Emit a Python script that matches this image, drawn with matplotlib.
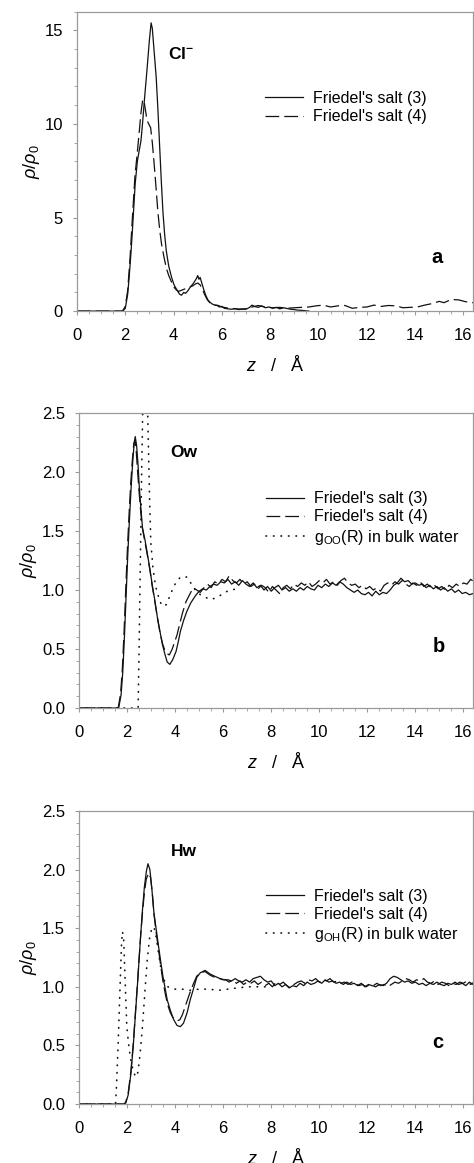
import numpy as np
import matplotlib
matplotlib.use("Agg")
import matplotlib.pyplot as plt
from matplotlib.ticker import MultipleLocator

# --- fonts ---
plt.rcParams['font.family'] = ['Liberation Sans', 'DejaVu Sans']
plt.rcParams['mathtext.fontset'] = 'custom'
plt.rcParams['mathtext.rm'] = 'Liberation Sans'
plt.rcParams['mathtext.it'] = 'Liberation Sans:italic'
plt.rcParams['mathtext.bf'] = 'Liberation Sans:bold'

# --- data: (z [A], rho/rho0) ---
# panel a, Cl-
cl_fs3 = [
    (0, 0), (1.9, 0), (2.0, 0.15), (2.1, 0.9), (2.16, 1.8), (2.23, 3.0), (2.3, 4.4),
    (2.36, 5.7), (2.41, 6.8), (2.5, 8.0), (2.58, 8.6), (2.65, 9.1), (2.72, 10.1),
    (2.8, 11.4), (2.9, 12.9), (3.0, 14.5), (3.07, 15.4), (3.12, 15.1), (3.2, 13.8),
    (3.28, 12.5), (3.35, 10.8), (3.42, 8.9), (3.49, 7.0), (3.56, 5.3), (3.63, 4.1),
    (3.7, 3.2), (3.8, 2.4), (3.92, 1.8), (4.02, 1.4), (4.13, 1.15), (4.25, 0.9),
    (4.33, 0.85), (4.42, 1.0), (4.5, 0.95), (4.6, 1.1), (4.7, 1.3), (4.8, 1.45),
    (4.88, 1.6), (4.95, 1.75), (5.0, 1.9), (5.05, 1.7), (5.1, 1.8), (5.18, 1.45),
    (5.25, 1.15), (5.33, 0.85), (5.42, 0.6), (5.5, 0.48), (5.6, 0.38), (5.7, 0.32),
    (5.8, 0.3), (5.9, 0.22), (6.0, 0.25), (6.1, 0.15), (6.25, 0.12), (6.4, 0.1),
    (6.55, 0.13), (6.7, 0.08), (6.85, 0.12), (7.0, 0.1), (7.15, 0.2), (7.25, 0.32),
    (7.35, 0.25), (7.5, 0.2), (7.65, 0.28), (7.8, 0.18), (7.95, 0.22), (8.1, 0.15),
    (8.25, 0.2), (8.4, 0.12), (8.55, 0.18), (8.7, 0.14), (8.85, 0.1), (9.0, 0.08),
    (9.15, 0.05), (9.3, 0.04), (9.45, 0.02), (9.6, 0.0),
]
cl_fs4 = [
    (0, 0), (1.88, 0), (2.0, 0.25), (2.1, 1.1), (2.2, 2.9), (2.3, 5.1), (2.4, 7.2),
    (2.5, 8.5), (2.58, 9.6), (2.65, 10.6), (2.72, 11.3), (2.78, 11.2), (2.84, 10.7),
    (2.9, 10.2), (2.97, 10.0), (3.05, 9.8), (3.12, 9.0), (3.2, 7.8), (3.28, 6.5),
    (3.35, 5.3), (3.43, 4.3), (3.5, 3.6), (3.6, 2.9), (3.7, 2.3), (3.8, 1.9),
    (3.9, 1.6), (4.0, 1.3), (4.1, 1.15), (4.2, 1.05), (4.3, 1.1), (4.4, 1.15),
    (4.5, 1.2), (4.6, 1.25), (4.7, 1.3), (4.8, 1.35), (4.9, 1.45), (5.0, 1.5),
    (5.1, 1.4), (5.2, 1.15), (5.3, 0.85), (5.4, 0.6), (5.5, 0.45), (5.6, 0.38),
    (5.7, 0.33), (5.85, 0.3), (6.0, 0.22), (6.3, 0.15), (6.6, 0.12), (6.9, 0.1),
    (7.2, 0.2), (7.5, 0.3), (7.8, 0.22), (8.1, 0.18), (8.4, 0.2), (8.7, 0.15),
    (9.0, 0.18), (9.3, 0.2), (9.6, 0.22), (9.9, 0.28), (10.2, 0.32), (10.5, 0.22),
    (10.8, 0.28), (11.1, 0.3), (11.4, 0.15), (11.7, 0.2), (12.0, 0.22), (12.3, 0.32),
    (12.6, 0.25), (12.9, 0.3), (13.2, 0.28), (13.5, 0.18), (13.8, 0.2), (14.1, 0.22),
    (14.4, 0.32), (14.7, 0.4), (15.0, 0.52), (15.2, 0.45), (15.5, 0.62), (15.8, 0.6),
    (16.1, 0.5), (16.4, 0.45),
]

# panel b, Ow
ow_fs3 = [
    (0, 0), (1.65, 0), (1.75, 0.11), (1.82, 0.3), (1.89, 0.6), (1.96, 0.95), (2.03, 1.3),
    (2.1, 1.6), (2.17, 1.87), (2.24, 2.1), (2.3, 2.25), (2.34, 2.3), (2.4, 2.22),
    (2.46, 2.05), (2.51, 1.87), (2.58, 1.68), (2.64, 1.53), (2.75, 1.42), (2.85, 1.3),
    (2.95, 1.18), (3.05, 1.04), (3.15, 0.92), (3.26, 0.77), (3.36, 0.66), (3.47, 0.54),
    (3.57, 0.46), (3.67, 0.39), (3.78, 0.37), (3.9, 0.41), (4.04, 0.48), (4.13, 0.56),
    (4.22, 0.65), (4.35, 0.74), (4.49, 0.82), (4.65, 0.89), (4.84, 0.95),
    (5.0, 0.99), (5.15, 1.01), (5.3, 1.0), (5.45, 1.03), (5.6, 1.05), (5.75, 1.04),
    (5.9, 1.07), (6.05, 1.06), (6.2, 1.09), (6.35, 1.05), (6.5, 1.07), (6.65, 1.04),
    (6.8, 1.08), (6.95, 1.05), (7.1, 1.03), (7.25, 1.06), (7.4, 1.02), (7.55, 1.04),
    (7.7, 1.0), (7.85, 1.03), (8.0, 0.99), (8.15, 1.02), (8.3, 1.04), (8.45, 1.0),
    (8.6, 1.02), (8.75, 0.99), (8.9, 1.01), (9.05, 0.99), (9.2, 1.02), (9.35, 1.0),
    (9.5, 1.03), (9.65, 1.01), (9.8, 1.0), (9.95, 1.04), (10.1, 1.02), (10.25, 1.05),
    (10.4, 1.03), (10.55, 1.06), (10.7, 1.04), (10.85, 1.07), (11.0, 1.05), (11.15, 1.02),
    (11.3, 1.0), (11.45, 0.98), (11.6, 1.0), (11.75, 0.97), (11.9, 0.96), (12.05, 0.98),
    (12.2, 0.95), (12.35, 0.99), (12.5, 0.96), (12.65, 0.98), (12.8, 0.97), (12.95, 1.0),
    (13.1, 1.04), (13.25, 1.06), (13.4, 1.1), (13.55, 1.07), (13.7, 1.08), (13.85, 1.05),
    (14.0, 1.06), (14.15, 1.04), (14.3, 1.05), (14.45, 1.02), (14.6, 1.04), (14.75, 1.01),
    (14.9, 1.03), (15.05, 1.0), (15.2, 1.02), (15.35, 0.99), (15.5, 1.01), (15.65, 0.98),
    (15.8, 1.0), (15.95, 0.97), (16.1, 0.98), (16.25, 0.96), (16.4, 0.97), (16.55, 0.96),
]
ow_fs4 = [
    (0, 0), (1.63, 0), (1.73, 0.12), (1.8, 0.32), (1.87, 0.62), (1.94, 0.98), (2.01, 1.33),
    (2.08, 1.63), (2.15, 1.9), (2.22, 2.1), (2.28, 2.24), (2.33, 2.27), (2.38, 2.18),
    (2.44, 2.0), (2.5, 1.83), (2.57, 1.66), (2.64, 1.52), (2.75, 1.4), (2.85, 1.29),
    (2.95, 1.17), (3.05, 1.03), (3.15, 0.91), (3.26, 0.77), (3.36, 0.65), (3.47, 0.55),
    (3.57, 0.49), (3.67, 0.46), (3.76, 0.45), (3.88, 0.5), (3.98, 0.56), (4.08, 0.62),
    (4.2, 0.72), (4.3, 0.8), (4.45, 0.9), (4.6, 0.96), (4.75, 1.02),
    (4.9, 1.0), (5.05, 0.98), (5.2, 1.02), (5.35, 1.05), (5.5, 1.02), (5.65, 1.07),
    (5.8, 1.05), (5.95, 1.09), (6.1, 1.07), (6.25, 1.12), (6.4, 1.08), (6.55, 1.06),
    (6.7, 1.09), (6.85, 1.05), (7.0, 1.07), (7.15, 1.03), (7.3, 1.05), (7.45, 1.01),
    (7.6, 1.04), (7.75, 1.02), (7.9, 0.98), (8.05, 1.03), (8.2, 1.0), (8.35, 0.97),
    (8.5, 1.02), (8.65, 1.04), (8.8, 1.01), (8.95, 1.05), (9.1, 1.03), (9.25, 1.06),
    (9.4, 1.04), (9.55, 1.07), (9.7, 1.03), (9.85, 1.05), (10.0, 1.08), (10.15, 1.06),
    (10.3, 1.09), (10.45, 1.05), (10.6, 1.07), (10.75, 1.04), (10.9, 1.08), (11.05, 1.1),
    (11.2, 1.06), (11.35, 1.04), (11.5, 1.05), (11.65, 1.02), (11.8, 1.04), (11.95, 1.01),
    (12.1, 1.03), (12.25, 1.0), (12.4, 1.02), (12.55, 0.99), (12.7, 1.04), (12.85, 1.06),
    (13.0, 1.04), (13.15, 1.07), (13.3, 1.05), (13.45, 1.08), (13.6, 1.05), (13.75, 1.03),
    (13.9, 1.06), (14.05, 1.04), (14.2, 1.07), (14.35, 1.03), (14.5, 1.05), (14.65, 1.02),
    (14.8, 1.04), (14.95, 1.01), (15.1, 1.03), (15.25, 1.0), (15.4, 1.04), (15.55, 1.02),
    (15.7, 1.05), (15.85, 1.03), (16.0, 1.06), (16.15, 1.05), (16.3, 1.09), (16.45, 1.07),
    (16.6, 1.09),
]
goo_bulk = [
    (0, 0), (2.46, 0), (2.5, 0.5), (2.55, 1.2), (2.6, 1.9), (2.65, 2.5), (2.7, 2.9),
    (2.76, 3.05), (2.82, 2.85), (2.88, 2.3), (2.94, 1.75), (2.99, 1.4), (3.08, 1.18),
    (3.19, 1.03), (3.3, 0.95), (3.4, 0.89), (3.53, 0.86), (3.65, 0.88), (3.76, 0.94),
    (3.88, 1.0), (4.0, 1.05), (4.22, 1.11), (4.49, 1.11), (4.65, 1.06), (4.84, 1.0),
    (5.05, 0.96), (5.25, 0.94), (5.45, 0.92), (5.66, 0.93), (5.85, 0.95), (6.07, 0.98),
    (6.3, 1.0), (6.6, 1.01),
]

# panel c, Hw
hw_fs3 = [
    (0, 0), (1.9, 0), (1.95, 0.01), (2.05, 0.08), (2.16, 0.26), (2.26, 0.5), (2.36, 0.8),
    (2.44, 1.04), (2.5, 1.23), (2.57, 1.45), (2.64, 1.65), (2.72, 1.85), (2.8, 1.98),
    (2.87, 2.05), (2.95, 2.0), (3.03, 1.84), (3.12, 1.63), (3.2, 1.51), (3.3, 1.36),
    (3.39, 1.23), (3.5, 1.08), (3.6, 0.97), (3.67, 0.89), (3.8, 0.8), (3.94, 0.72),
    (4.08, 0.67), (4.22, 0.66), (4.35, 0.69), (4.5, 0.78), (4.63, 0.89), (4.76, 0.98),
    (4.9, 1.08), (5.05, 1.12), (5.25, 1.14), (5.45, 1.11), (5.65, 1.09), (5.87, 1.07),
    (6.05, 1.06),
    (6.2, 1.06), (6.35, 1.05), (6.5, 1.07), (6.65, 1.05), (6.8, 1.04), (6.95, 1.06),
    (7.1, 1.04), (7.25, 1.07), (7.4, 1.08), (7.55, 1.09), (7.7, 1.06), (7.85, 1.04),
    (8.0, 1.05), (8.15, 1.01), (8.3, 1.03), (8.45, 1.0), (8.6, 1.02), (8.75, 0.99),
    (8.9, 1.01), (9.05, 1.0), (9.2, 1.03), (9.35, 1.01), (9.5, 1.04), (9.65, 1.02),
    (9.8, 1.03), (9.95, 1.05), (10.1, 1.03), (10.25, 1.06), (10.4, 1.04), (10.55, 1.05),
    (10.7, 1.03), (10.85, 1.04), (11.0, 1.02), (11.15, 1.04), (11.3, 1.02), (11.45, 1.03),
    (11.6, 1.01), (11.75, 1.03), (11.9, 1.0), (12.05, 1.02), (12.2, 1.01), (12.35, 1.0),
    (12.5, 1.02), (12.65, 1.01), (12.8, 1.03), (12.95, 1.07), (13.1, 1.09), (13.25, 1.08),
    (13.4, 1.06), (13.55, 1.04), (13.7, 1.05), (13.85, 1.03), (14.0, 1.04), (14.15, 1.02),
    (14.3, 1.03), (14.45, 1.01), (14.6, 1.03), (14.75, 1.02), (14.9, 1.04), (15.05, 1.02),
    (15.2, 1.01), (15.35, 1.03), (15.5, 1.02), (15.65, 1.04), (15.8, 1.02), (15.95, 1.03),
    (16.1, 1.01), (16.25, 1.04), (16.4, 1.02), (16.55, 1.05),
]
hw_fs4 = [
    (0, 0), (1.88, 0), (1.95, 0.02), (2.05, 0.1), (2.16, 0.28), (2.26, 0.52), (2.36, 0.82),
    (2.44, 1.05), (2.5, 1.24), (2.57, 1.45), (2.64, 1.63), (2.72, 1.8), (2.8, 1.92),
    (2.9, 1.97), (2.98, 1.93), (3.05, 1.8), (3.12, 1.62), (3.2, 1.48), (3.3, 1.33),
    (3.4, 1.18), (3.5, 1.04), (3.6, 0.93), (3.7, 0.84), (3.8, 0.78), (3.9, 0.74),
    (4.0, 0.72), (4.1, 0.71), (4.2, 0.72), (4.3, 0.76), (4.45, 0.85), (4.6, 0.94),
    (4.75, 1.02), (4.9, 1.09), (5.05, 1.12), (5.25, 1.13), (5.45, 1.1), (5.65, 1.08),
    (5.85, 1.07), (6.0, 1.06),
    (6.1, 1.06), (6.25, 1.04), (6.4, 1.06), (6.55, 1.03), (6.7, 1.05), (6.85, 1.02),
    (7.0, 1.04), (7.15, 1.03), (7.3, 1.05), (7.45, 1.02), (7.6, 1.04), (7.75, 1.01),
    (7.9, 1.03), (8.05, 1.0), (8.2, 1.04), (8.35, 1.02), (8.5, 1.04), (8.65, 1.01),
    (8.8, 0.99), (8.95, 1.02), (9.1, 1.04), (9.25, 1.05), (9.4, 1.03), (9.55, 1.06),
    (9.7, 1.05), (9.85, 1.07), (10.0, 1.04), (10.15, 1.06), (10.3, 1.05), (10.45, 1.07),
    (10.6, 1.04), (10.75, 1.05), (10.9, 1.03), (11.05, 1.04), (11.2, 1.02), (11.35, 1.04),
    (11.5, 1.03), (11.65, 1.01), (11.8, 1.02), (11.95, 1.0), (12.1, 1.02), (12.25, 1.01),
    (12.4, 1.03), (12.55, 1.01), (12.7, 1.02), (12.85, 1.0), (13.0, 1.02), (13.15, 1.04),
    (13.3, 1.03), (13.45, 1.05), (13.6, 1.07), (13.75, 1.06), (13.9, 1.04), (14.05, 1.06),
    (14.2, 1.05), (14.35, 1.07), (14.5, 1.04), (14.65, 1.03), (14.8, 1.05), (14.95, 1.02),
    (15.1, 1.04), (15.25, 1.03), (15.4, 1.01), (15.55, 1.03), (15.7, 1.02), (15.85, 1.04),
    (16.0, 1.03), (16.15, 1.05), (16.3, 1.02), (16.45, 1.04), (16.6, 1.05),
]
goh_bulk = [
    (0, 0), (1.52, 0), (1.56, 0.15), (1.63, 0.52), (1.7, 0.95), (1.77, 1.37), (1.81, 1.47),
    (1.86, 1.4), (1.92, 1.05), (1.99, 0.66), (2.08, 0.48), (2.16, 0.37), (2.26, 0.28),
    (2.36, 0.23), (2.45, 0.27), (2.54, 0.42), (2.64, 0.66), (2.74, 0.95), (2.84, 1.23),
    (2.94, 1.42), (3.03, 1.5), (3.12, 1.51), (3.2, 1.44), (3.3, 1.3), (3.39, 1.18),
    (3.5, 1.08), (3.6, 1.03), (3.7, 1.0), (3.8, 0.99), (4.0, 0.98), (4.3, 0.98),
    (4.6, 0.97), (5.0, 0.98), (5.4, 0.98), (5.8, 0.97), (6.2, 0.98), (6.6, 0.99),
    (7.0, 1.0), (7.5, 1.0), (8.0, 1.0),
]

LAB3 = "Friedel's salt (3)"
LAB4 = "Friedel's salt (4)"
LAB_OO = r"g$_{\mathrm{OO}}$(R) in bulk water"
LAB_OH = r"g$_{\mathrm{OH}}$(R) in bulk water"

SPINE = "#9a9a9a"
INK = "#111111"


def draw(ax, pts, style):
    z, v = np.array(pts).T
    if style == "solid":
        return ax.plot(z, v, color=INK, lw=0.9, ls="-")[0]
    if style == "dashed":
        return ax.plot(z, v, color=INK, lw=0.9, dashes=(11, 4))[0]
    # sparse round dots
    return ax.plot(z, v, color=INK, lw=1.2, ls=(0, (0.3, 4.2)),
                   dash_capstyle="round")[0]


def style_axes(ax, ymax, ymaj, ymin):
    ax.set_xlim(0, 16.4)
    ax.set_ylim(0, ymax)
    ax.xaxis.set_major_locator(MultipleLocator(2))
    ax.xaxis.set_minor_locator(MultipleLocator(0.5))
    ax.yaxis.set_major_locator(MultipleLocator(ymaj))
    ax.yaxis.set_minor_locator(MultipleLocator(ymin))
    for s in ax.spines.values():
        s.set_color(SPINE)
        s.set_linewidth(0.9)
    ax.tick_params(which="major", direction="out", length=3, color=SPINE,
                   labelsize=12, labelcolor="black")
    ax.tick_params(axis="x", which="major", pad=9)
    ax.tick_params(axis="y", which="major", pad=7)
    ax.tick_params(which="minor", direction="out", length=2, color=SPINE)
    ax.set_xlabel(r"$z$   /   Å", fontsize=13, labelpad=9)
    ax.set_ylabel(r"$\rho/\rho_0$", fontsize=13, labelpad=2)


def add_legend(ax, handles, labels):
    ax.legend(handles, labels, loc="upper left", bbox_to_anchor=(0.475, 0.735),
              frameon=False, fontsize=11.5, handlelength=2.4, handletextpad=0.6,
              labelspacing=0.2, borderpad=0, borderaxespad=0)


fig = plt.figure(figsize=(4.74, 11.63), dpi=100)
ax_a = fig.add_axes([0.1624, 0.7325, 0.8355, 0.2575])
ax_b = fig.add_axes([0.1667, 0.3912, 0.8312, 0.2537])
ax_c = fig.add_axes([0.1667, 0.0507, 0.8312, 0.2520])

# a: Cl-
h3 = draw(ax_a, cl_fs3, "solid")
h4 = draw(ax_a, cl_fs4, "dashed")
style_axes(ax_a, 16, 5, 1)
ax_a.set_yticks([0, 5, 10, 15])
add_legend(ax_a, [h3, h4], [LAB3, LAB4])
ax_a.text(0.23, 0.86, r"$\mathbf{Cl}^{\mathbf{-}}$", transform=ax_a.transAxes,
          fontsize=12.5, ha="left", va="center")
ax_a.text(0.91, 0.18, "a", transform=ax_a.transAxes, fontsize=14.5,
          fontweight="bold", ha="center", va="center")

# b: Ow
h3 = draw(ax_b, ow_fs3, "solid")
h4 = draw(ax_b, ow_fs4, "dashed")
hg = draw(ax_b, goo_bulk, "dotted")
style_axes(ax_b, 2.5, 0.5, 0.1)
ax_b.yaxis.set_major_formatter(plt.FormatStrFormatter("%.1f"))
add_legend(ax_b, [h3, h4, hg], [LAB3, LAB4, LAB_OO])
ax_b.text(0.231, 0.865, "Ow", transform=ax_b.transAxes, fontsize=12.5,
          fontweight="bold", ha="left", va="center")
ax_b.text(0.914, 0.21, "b", transform=ax_b.transAxes, fontsize=14.5,
          fontweight="bold", ha="center", va="center")

# c: Hw
h3 = draw(ax_c, hw_fs3, "solid")
h4 = draw(ax_c, hw_fs4, "dashed")
hg = draw(ax_c, goh_bulk, "dotted")
style_axes(ax_c, 2.5, 0.5, 0.1)
ax_c.yaxis.set_major_formatter(plt.FormatStrFormatter("%.1f"))
add_legend(ax_c, [h3, h4, hg], [LAB3, LAB4, LAB_OH])
ax_c.text(0.233, 0.863, "Hw", transform=ax_c.transAxes, fontsize=12.5,
          fontweight="bold", ha="left", va="center")
ax_c.text(0.91, 0.21, "c", transform=ax_c.transAxes, fontsize=14.5,
          fontweight="bold", ha="center", va="center")

fig.savefig("out.png", dpi=100, facecolor="white")
